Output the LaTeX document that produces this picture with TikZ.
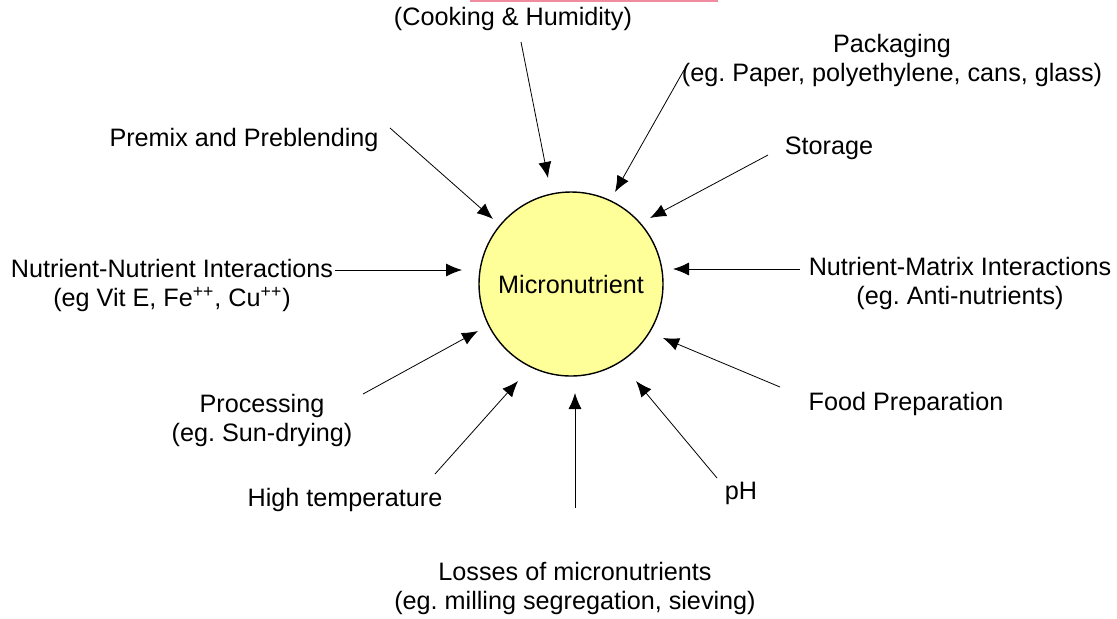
\documentclass[tikz,border=0pt]{standalone}
\usepackage{fontspec}
\setmainfont{Liberation Sans}
\usetikzlibrary{arrows.meta,positioning}
\definecolor{hubyellow}{RGB}{255,255,153}
\definecolor{barpink}{RGB}{240,140,160}
\frenchspacing
\tikzset{
    -{Latex[length=8pt,width=6.5pt]},line width=0.75pt,
    hub/.style ={circle, draw, line width=0.7pt, fill=hubyellow, minimum size=92pt, inner sep=0pt},
    lbl/.style = {inner sep=0pt, align=center, font=\fontsize{12.6}{14.5}\selectfont}
}

\begin{document}
\begin{tikzpicture}[x=0.5pt,y=-0.5pt]
  \useasboundingbox (0,0) rectangle (1117,618);
  \fill[barpink] (470,0) rectangle (718,2);

  \node[hub] (mn) at (571, 284) {};
  \node[lbl] at (mn.center) {Micronutrient};

  % labels
  \node[lbl] (cook) at (513, 19) {(Cooking \& Humidity)};
  \node[lbl] (pack) at (892, 60) {Packaging\\(eg. Paper, polyethylene, cans, glass)};
  \node[lbl] (stor) at (829, 148) {Storage};
  \node[lbl] (nmi) at (960, 283) {Nutrient-Matrix Interactions\\(eg. Anti-nutrients)};
  \node[lbl] (food) at (906, 404) {Food Preparation};
  \node[lbl] (ph) at (741, 493) {pH};
  \node[lbl] (loss) at (575, 588) {Losses of micronutrients\\(eg. milling segregation, sieving)};
  \node[lbl] (temp) at (345, 500) {High temperature};
  \node[lbl] (proc) at (262, 420) {Processing\\(eg. Sun-drying)};
  \node[lbl] (nni) at (172, 285) {Nutrient-Nutrient Interactions\\(eg Vit E, Fe\textsuperscript{++}, Cu\textsuperscript{++})};
  \node[lbl] (prem) at (244, 140) {Premix and Preblending};

  % arrow ends
  \coordinate (cookT) at (521, 42);  \coordinate (cookH) at (548, 178);
  \coordinate (packT) at (684, 70);  \coordinate (packH) at (615, 192);
  \coordinate (storT) at (768, 155); \coordinate (storH) at (650, 218);
  \coordinate (nmiT) at (800, 269);  \coordinate (nmiH) at (673, 269);
  \coordinate (foodT) at (780, 387); \coordinate (foodH) at (663, 338);
  \coordinate (phT) at (717, 478);   \coordinate (phH) at (636, 381);
  \coordinate (lossT) at (575, 508); \coordinate (lossH) at (575, 393);
  \coordinate (tempT) at (435, 474); \coordinate (tempH) at (518, 381);
  \coordinate (procT) at (363, 394); \coordinate (procH) at (478, 331);
  \coordinate (nniT) at (335, 270);  \coordinate (nniH) at (462, 270);
  \coordinate (premT) at (390, 128); \coordinate (premH) at (493, 219);

  \draw (cookT) -- (cookH);
  \draw (packT) -- (packH);
  \draw (storT) -- (storH);
  \draw (nmiT) -- (nmiH);
  \draw (foodT) -- (foodH);
  \draw (phT) -- (phH);
  \draw (lossT) -- (lossH);
  \draw (tempT) -- (tempH);
  \draw (procT) -- (procH);
  \draw (nniT) -- (nniH);
  \draw (premT) -- (premH);
\end{tikzpicture}
\end{document}
